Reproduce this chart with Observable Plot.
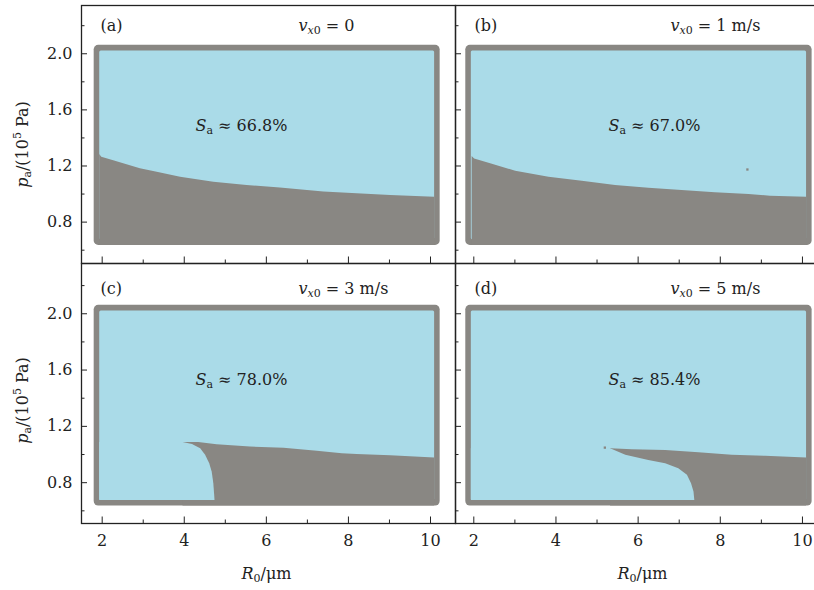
<!DOCTYPE html>
<html>
<head>
<meta charset="utf-8">
<script src="https://cdn.jsdelivr.net/npm/d3@7"></script>
<script src="https://cdn.jsdelivr.net/npm/@observablehq/plot@0.6"></script>
<style>
  html, body { margin: 0; padding: 0; background: #fff; }
  body { width: 814px; height: 590px; overflow: hidden; position: relative; font-family: "DejaVu Serif", serif; }
  .panel { position: absolute; }
  .panel svg { background: transparent !important; overflow: visible !important; max-width: none !important; }
</style>
</head>
<body>
<div id="chart"></div>
<script>
// ---------------- data ----------------
const panelLabels = ["(a)", "(b)", "(c)", "(d)"];
const velocities = ["0", "1 m/s", "3 m/s", "5 m/s"];
const areaShares = ["66.8%", "67.0%", "78.0%", "85.4%"];

const xTicks = [2, 4, 6, 8, 10];
const xTickLabels = ["2", "4", "6", "8", "10"];
const xMinorTicks = [3, 5, 7, 9];
const yTicks = [0.8, 1.2, 1.6, 2.0];
const yTickLabels = ["0.8", "1.2", "1.6", "2.0"];
const yMinorTicks = [0.6, 1.0, 1.4, 1.8, 2.2];

// extent of the computed (R0, pa) grid: outer (grey rim) and inner
const gridOuterR = [1.805, 10.235];
const gridOuterP = [0.634, 2.060];
const gridInnerR = [1.94, 10.10];
const gridInnerP = [0.674, 2.019];

// (a) v = 0 : upper boundary of the grey region
const boundA_R = [1.94, 1.99, 2.28, 2.93, 3.34, 3.91, 4.72, 5.53, 6.34, 7.40, 8.21, 9.03, 10.10];
const boundA_P = [1.282, 1.262, 1.238, 1.180, 1.155, 1.120, 1.085, 1.061, 1.043, 1.014, 1.002, 0.990, 0.978];
// (b) v = 1 m/s
const boundB_R = [1.96, 2.02, 2.41, 3.02, 3.83, 4.64, 5.45, 6.26, 7.07, 7.88, 8.70, 9.22, 10.10];
const boundB_P = [1.268, 1.250, 1.216, 1.163, 1.120, 1.092, 1.061, 1.042, 1.026, 1.009, 0.997, 0.985, 0.978];
const speckB_R = [8.66];
const speckB_P = [1.175];
// (c) v = 3 m/s : upper edge and lower edge of the grey tongue
const topC_R = [3.97, 4.35, 4.80, 5.61, 6.43, 7.24, 7.85, 8.21, 9.03, 10.10];
const topC_P = [1.086, 1.086, 1.069, 1.053, 1.044, 1.024, 1.006, 1.001, 0.992, 0.975];
const lowC_R = [3.97, 4.20, 4.40, 4.52, 4.62, 4.68, 4.72, 4.75];
const lowC_P = [1.086, 1.072, 1.041, 0.994, 0.935, 0.875, 0.793, 0.674];
// (d) v = 5 m/s
const topD_R = [5.33, 5.86, 6.67, 7.48, 8.29, 9.10, 10.10];
const topD_P = [1.041, 1.034, 1.029, 1.013, 0.994, 0.987, 0.975];
const lowD_R = [5.33, 5.70, 6.26, 6.67, 6.99, 7.20, 7.30, 7.36, 7.38];
const lowD_P = [1.041, 0.994, 0.958, 0.935, 0.899, 0.852, 0.793, 0.733, 0.674];
const speckD_R = [5.19];
const speckD_P = [1.049];

const panels = [
  {top: {R: boundA_R, P: boundA_P}, low: null, speck: null},
  {top: {R: boundB_R, P: boundB_P}, low: null, speck: {R: speckB_R, P: speckB_P}},
  {top: {R: topC_R, P: topC_P}, low: {R: lowC_R, P: lowC_P}, speck: null},
  {top: {R: topD_R, P: topD_P}, low: {R: lowD_R, P: lowD_P}, speck: {R: speckD_R, P: speckD_P}}
];

// ---------------- layout / style ----------------
const GREY = "#898783";
const BLUE = "#aadbe8";
const INK = "#222";
const FONT = "DejaVu Serif";
const FS = 16;
const SUB = 3.5, SUP = -6.5;

const colLayout = [
  {left: 0, width: 455, marginLeft: 81, xDomain: [1.496, 10.609], vdx: 217, sdx: 114},
  {left: 455, width: 370, marginLeft: 0, xDomain: [1.5545, 10.561], vdx: 215, sdx: 153}
];
const rowLayout = [
  {top: 0, height: 263, marginTop: 5, marginBottom: 0, yDomain: [0.505, 2.344], ldy: 20, sdy: 120, ylabDy: 10},
  {top: 263, height: 327, marginTop: 0, marginBottom: 67, yDomain: [0.510, 2.357], ldy: 25, sdy: 116, ylabDy: 7}
];

function parseRich(s) {
  const out = []; let italic = false, small = false, shift = 0, buf = "";
  const flush = () => { if (buf) { out.push({text: buf, italic, small, shift}); buf = ""; } };
  for (let i = 0; i < s.length; i++) {
    const c = s[i];
    if (c === "*") { flush(); italic = !italic; }
    else if ((c === "_" || c === "^") && s[i + 1] === "{") { flush(); small = true; shift = c === "_" ? SUB : SUP; i++; }
    else if (c === "}" && small) { flush(); small = false; shift = 0; }
    else buf += c;
  }
  flush();
  return out;
}

function richify(svg) {
  d3.select(svg).selectAll("text").each(function () {
    const el = this;
    el.style.setProperty("font-family", `"${FONT}", serif`, "important");
    el.style.setProperty("font-size", FS + "px", "important");
    const s = el.textContent;
    if (!/[*_^]/.test(s)) return;
    const segs = parseRich(s);
    while (el.firstChild) el.removeChild(el.firstChild);
    let cur = 0;
    for (const seg of segs) {
      const t = document.createElementNS("http://www.w3.org/2000/svg", "tspan");
      t.textContent = seg.text;
      if (seg.italic) t.setAttribute("font-style", "italic");
      if (seg.small) t.style.setProperty("font-size", Math.round(FS * 0.7) + "px");
      if (seg.shift !== cur) { t.setAttribute("dy", seg.shift - cur); cur = seg.shift; }
      el.appendChild(t);
    }
  });
}

const chart = document.getElementById("chart");
const txt = {fontSize: FS, fontFamily: FONT, fill: INK, lineAnchor: "middle"};

panels.forEach((pd, i) => {
  const col = colLayout[i % 2];
  const row = rowLayout[Math.floor(i / 2)];
  const innerW = col.width - col.marginLeft;
  const innerH = row.height - row.marginTop - row.marginBottom;
  const isLeft = i % 2 === 0;
  const isBottom = i >= 2;

  const marks = [];
  // grey rim of the parameter grid
  marks.push(Plot.rect([{r1: gridOuterR[0], r2: gridOuterR[1], p1: gridOuterP[0], p2: gridOuterP[1]}],
    {x1: "r1", x2: "r2", y1: "p1", y2: "p2", fill: GREY, rx: 4.5}));
  // blue region
  marks.push(Plot.rect([{r1: gridInnerR[0], r2: gridInnerR[1], p1: gridInnerP[0], p2: gridInnerP[1]}],
    {x1: "r1", x2: "r2", y1: "p1", y2: "p2", fill: BLUE, rx: 1.5}));
  // grey region below boundary
  const idxTop = d3.range(pd.top.R.length);
  marks.push(Plot.areaY(idxTop, {x: j => pd.top.R[j], y1: () => gridOuterP[0], y2: j => pd.top.P[j], fill: GREY, curve: "linear"}));
  if (pd.low) {
    // blue pocket under the tongue; it starts at the inner left edge so no seam is left at the tip
    const lowR = [gridInnerR[0], ...pd.low.R];
    const lowP = [pd.low.P[0], ...pd.low.P];
    const idxLow = d3.range(lowR.length);
    marks.push(Plot.areaY(idxLow, {x: j => lowR[j], y1: () => gridInnerP[0], y2: j => lowP[j],
      fill: BLUE, curve: "linear"}));
  }
  if (pd.speck) {
    const idxS = d3.range(pd.speck.R.length);
    marks.push(Plot.dot(idxS, {x: j => pd.speck.R[j], y: j => pd.speck.P[j], fill: GREY, r: 1.3, symbol: "square"}));
  }
  // frame
  marks.push(Plot.frame({stroke: INK, strokeWidth: 1.3}));
  // inward ticks
  marks.push(Plot.tickX(xTicks, {x: d => d, stroke: INK, strokeWidth: 1, insetTop: innerH - 6.5}));
  marks.push(Plot.tickX(xMinorTicks, {x: d => d, stroke: INK, strokeWidth: 1, insetTop: innerH - 3.5}));
  marks.push(Plot.tickY(yTicks, {y: d => d, stroke: INK, strokeWidth: 1, insetRight: innerW - 6}));
  marks.push(Plot.tickY(yMinorTicks, {y: d => d, stroke: INK, strokeWidth: 1, insetRight: innerW - 3.5}));
  // tick labels and axis titles
  if (isBottom) {
    marks.push(Plot.text(xTicks, {x: d => d, text: (d, k) => xTickLabels[k], frameAnchor: "bottom", dy: 17,
      textAnchor: "middle", ...txt}));
    marks.push(Plot.text(["*R*_{0}/μm"], {text: d => d, frameAnchor: "bottom", dy: 50, dx: isLeft ? -2 : 2,
      textAnchor: "middle", ...txt}));
  }
  if (isLeft) {
    marks.push(Plot.text(yTicks, {y: d => d, text: (d, k) => yTickLabels[k], frameAnchor: "left", dx: -9,
      textAnchor: "end", ...txt}));
    marks.push(Plot.text(["*p*_{a}/(10^{5} Pa)"], {text: d => d, frameAnchor: "left", dx: -59, dy: row.ylabDy,
      rotate: -90, textAnchor: "middle", ...txt}));
  }
  // annotations
  marks.push(Plot.text([panelLabels[i]], {text: d => d, frameAnchor: "top-left", dx: 19, dy: row.ldy,
    textAnchor: "start", ...txt}));
  marks.push(Plot.text([velocities[i]], {text: d => `*v*_{*x*0} = ${d}`, frameAnchor: "top-left", dx: col.vdx, dy: row.ldy,
    textAnchor: "start", ...txt}));
  marks.push(Plot.text([areaShares[i]], {text: d => `*S*_{a} ≈ ${d}`, frameAnchor: "top-left", dx: col.sdx, dy: row.sdy,
    textAnchor: "start", ...txt}));

  const svg = Plot.plot({
    width: col.width,
    height: row.height,
    marginLeft: col.marginLeft,
    marginRight: 0,
    marginTop: row.marginTop,
    marginBottom: row.marginBottom,
    x: {domain: col.xDomain, axis: null},
    y: {domain: row.yDomain, axis: null},
    style: {background: "transparent", overflow: "visible", maxWidth: "none", color: INK},
    marks
  });
  richify(svg);
  const div = document.createElement("div");
  div.className = "panel";
  div.style.left = col.left + "px";
  div.style.top = row.top + "px";
  div.style.width = col.width + "px";
  div.style.height = row.height + "px";
  div.appendChild(svg);
  chart.appendChild(div);
});
</script>
</body>
</html>
